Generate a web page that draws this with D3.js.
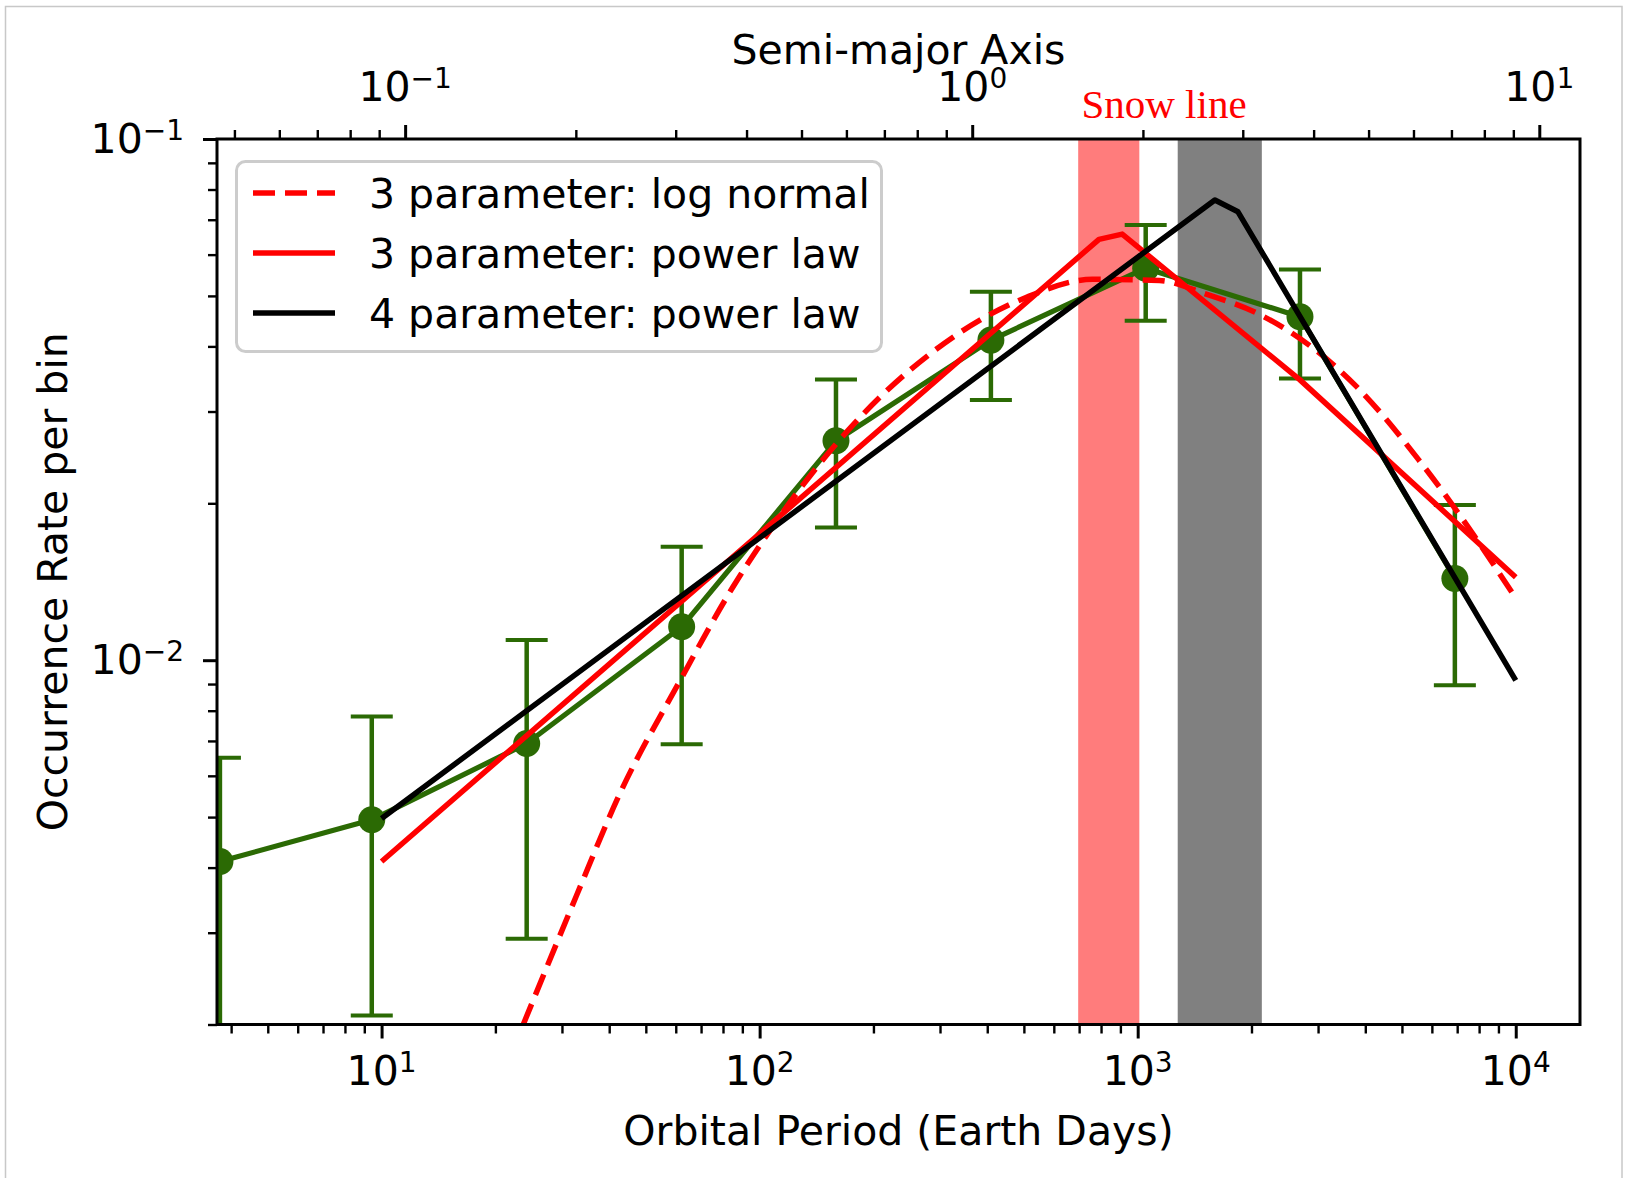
<!DOCTYPE html>
<html><head><meta charset="utf-8">
<script src="https://cdn.jsdelivr.net/npm/d3@7"></script>
<style>body{margin:0;background:#fff}svg{display:block}</style>
</head><body>
<svg id="chart" width="1627" height="1178"></svg>
<script>
// ---- data ----
const periods = [3.736, 9.42, 24.2, 62.2, 159.2, 409, 1050, 2687, 6902];
const rates   = [0.00411, 0.00494, 0.00692, 0.01159, 0.02636, 0.04113, 0.0565, 0.0456, 0.01435];
const rateHi  = [0.0065, 0.0078, 0.01093, 0.0165, 0.03456, 0.0509, 0.0684, 0.0562, 0.01984];
const rateLo  = [0.001, 0.00208, 0.00292, 0.0069, 0.01798, 0.03155, 0.0448, 0.0347, 0.00895];

const logNormalP = [23.7, 32.7, 42.6, 61.4, 84.9, 108, 184, 289, 508, 760, 1142, 1517, 2097, 3277, 3776, 5546, 7068, 10000];
const logNormalY = [0.0020, 0.00352, 0.00553, 0.0091, 0.0138, 0.0180, 0.0292, 0.0392, 0.0497, 0.0538, 0.0535, 0.0504, 0.0461, 0.0370, 0.0336, 0.0242, 0.0191, 0.01315];

const powerLaw3P = [10, 790, 910, 2687, 10000];
const powerLaw3Y = [0.00411, 0.0642, 0.0657, 0.0345, 0.01443];

const powerLaw4P = [10, 1600, 1842, 10000];
const powerLaw4Y = [0.00497, 0.0764, 0.0725, 0.00915];

const snowBand = [696, 1010];
const grayBand = [1276, 2130];
const snowLabelP = 1174;

const legendLabels = ["3 parameter: log normal", "3 parameter: power law", "4 parameter: power law"];
const xMajorTicks = [10, 100, 1000, 10000];
const xTickExp = ["1", "2", "3", "4"];
const yMajorTicks = [0.01, 0.1];
const yTickExp = ["\u22122", "\u22121"];
const aMajorTicks = [0.1, 1, 10];
const aTickExp = ["\u22121", "0", "1"];

// ---- layout ----
const L = 217, R = 1580, T = 139, B = 1024.5;
const FONT = "DejaVu Sans";
const FS = 41;
const GREEN = "#2b6a04";
const svg = d3.select("#chart");

svg.append("rect").attr("x", 5.5).attr("y", 6.5).attr("width", 1616.5).attr("height", 1200)
  .attr("fill", "#fff").attr("stroke", "#c8c8c8").attr("stroke-width", 1.5);

const x = d3.scaleLog().domain([3.67, 14790]).range([L, R]);
const y = d3.scaleLog().domain([0.002, 0.1]).range([B, T]);
const a = d3.scaleLog().domain(x.domain().map(p => Math.pow(p / 365, 2 / 3))).range([L, R]);

svg.append("clipPath").attr("id", "plotclip").append("rect")
  .attr("x", L).attr("y", T).attr("width", R - L).attr("height", B - T);
const plot = svg.append("g").attr("clip-path", "url(#plotclip)");

// bands
plot.append("rect").attr("x", x(snowBand[0])).attr("width", x(snowBand[1]) - x(snowBand[0]))
  .attr("y", T).attr("height", B - T).attr("fill", "#ff7c7c");
plot.append("rect").attr("x", x(grayBand[0])).attr("width", x(grayBand[1]) - x(grayBand[0]))
  .attr("y", T).attr("height", B - T).attr("fill", "#808080");

// data with error bars
const pts = periods.map((p, i) => ({p, v: rates[i], hi: rateHi[i], lo: rateLo[i]}));
const eb = plot.append("g").attr("stroke", GREEN).attr("stroke-width", 4.5);
pts.forEach(d => {
  const cx = x(d.p);
  eb.append("line").attr("x1", cx).attr("x2", cx).attr("y1", y(d.hi)).attr("y2", y(d.lo));
  eb.append("line").attr("x1", cx - 21).attr("x2", cx + 21).attr("y1", y(d.hi)).attr("y2", y(d.hi)).attr("stroke-width", 4);
  eb.append("line").attr("x1", cx - 21).attr("x2", cx + 21).attr("y1", y(d.lo)).attr("y2", y(d.lo)).attr("stroke-width", 4);
});
const line = d3.line().x(d => x(d[0])).y(d => y(d[1]));
plot.append("path").attr("d", line(pts.map(d => [d.p, d.v])))
  .attr("fill", "none").attr("stroke", GREEN).attr("stroke-width", 5.2).attr("stroke-linejoin", "round");
plot.selectAll("circle.pt").data(pts).join("circle").attr("class", "pt")
  .attr("cx", d => x(d.p)).attr("cy", d => y(d.v)).attr("r", 13.5).attr("fill", GREEN);

// fits
const smooth = d3.line().x(d => x(d[0])).y(d => y(d[1])).curve(d3.curveMonotoneX);
plot.append("path").attr("d", smooth(logNormalP.map((p, i) => [p, logNormalY[i]])))
  .attr("fill", "none").attr("stroke", "#ff0000").attr("stroke-width", 5.5).attr("stroke-dasharray", "22 10");
plot.append("path").attr("d", line(powerLaw3P.map((p, i) => [p, powerLaw3Y[i]])))
  .attr("fill", "none").attr("stroke", "#ff0000").attr("stroke-width", 5.5).attr("stroke-linejoin", "round");
plot.append("path").attr("d", line(powerLaw4P.map((p, i) => [p, powerLaw4Y[i]])))
  .attr("fill", "none").attr("stroke", "#000").attr("stroke-width", 5.5).attr("stroke-linejoin", "round");

// ---- axes ----
const isMajor = v => Math.abs(Math.log10(v) - Math.round(Math.log10(v))) < 1e-6;
function styleAxis(g, vertical) {
  g.select(".domain").remove();
  g.selectAll(".tick text").remove();
  g.selectAll(".tick line").attr("stroke", "#000")
    .attr("stroke-width", d => isMajor(d) ? 3 : 2.4)
    .each(function(d) {
      const len = isMajor(d) ? 14 : 9;
      const el = d3.select(this);
      if (vertical) el.attr("x2", -len); else el.attr("y2", el.attr("y2") < 0 ? -len : len);
    });
}
const xTicks = x.ticks().filter(v => v >= x.domain()[0] && v <= x.domain()[1]);
const gx = svg.append("g").attr("transform", `translate(0,${B})`)
  .call(d3.axisBottom(x).tickValues(xTicks).tickSize(14).tickFormat(""));
styleAxis(gx, false);
const yTicks = y.ticks();
const gy = svg.append("g").attr("transform", `translate(${L},0)`)
  .call(d3.axisLeft(y).tickValues(yTicks).tickSize(14).tickFormat(""));
styleAxis(gy, true);
const aTicks = a.ticks().filter(v => v >= a.domain()[0] && v <= a.domain()[1]);
const ga = svg.append("g").attr("transform", `translate(0,${T})`)
  .call(d3.axisTop(a).tickValues(aTicks).tickSize(14).tickFormat(""));
styleAxis(ga, false);

// frame
svg.append("rect").attr("x", L).attr("y", T).attr("width", R - L).attr("height", B - T)
  .attr("fill", "none").attr("stroke", "#000").attr("stroke-width", 3);

function powLabel(px, py, exp, anchor) {
  const t = svg.append("text").attr("x", px).attr("y", py).attr("text-anchor", anchor)
    .attr("font-family", FONT).attr("font-size", FS).attr("fill", "#000");
  t.append("tspan").text("10");
  t.append("tspan").attr("dy", -13).attr("font-size", 28).text(exp);
}
xMajorTicks.forEach((v, i) => powLabel(x(v), 1085, xTickExp[i], "middle"));
yMajorTicks.forEach((v, i) => powLabel(184, y(v) + 14, yTickExp[i], "end"));
aMajorTicks.forEach((v, i) => powLabel(a(v), 101, aTickExp[i], "middle"));

// axis titles
svg.append("text").attr("x", (L + R) / 2).attr("y", 1145).attr("text-anchor", "middle")
  .attr("font-family", FONT).attr("font-size", FS).text("Orbital Period (Earth Days)");
svg.append("text").attr("transform", `translate(67,${(T + B) / 2}) rotate(-90)`).attr("text-anchor", "middle")
  .attr("font-family", FONT).attr("font-size", FS).text("Occurrence Rate per bin");
svg.append("text").attr("x", (L + R) / 2).attr("y", 64).attr("text-anchor", "middle")
  .attr("font-family", FONT).attr("font-size", FS).text("Semi-major Axis");
svg.append("text").attr("x", x(snowLabelP)).attr("y", 118).attr("text-anchor", "middle")
  .attr("font-family", "Liberation Serif").attr("font-size", 41).attr("fill", "#ff0000").text("Snow line");

// legend
const lg = svg.append("g");
lg.append("rect").attr("x", 236.5).attr("y", 161.5).attr("width", 645).attr("height", 190).attr("rx", 9)
  .attr("fill", "#fff").attr("fill-opacity", 0.8).attr("stroke", "#cccccc").attr("stroke-width", 3);
const legStyles = [
  {c: "#ff0000", dash: "22 10"},
  {c: "#ff0000", dash: null},
  {c: "#000", dash: null}
];
legendLabels.forEach((lab, i) => {
  const cy = 193 + i * 60;
  lg.append("line").attr("x1", 253).attr("x2", 335).attr("y1", cy).attr("y2", cy)
    .attr("stroke", legStyles[i].c).attr("stroke-width", 5.5)
    .attr("stroke-dasharray", legStyles[i].dash);
  lg.append("text").attr("x", 369).attr("y", cy + 15).attr("font-family", FONT).attr("font-size", FS).text(lab);
});
</script>
</body></html>
